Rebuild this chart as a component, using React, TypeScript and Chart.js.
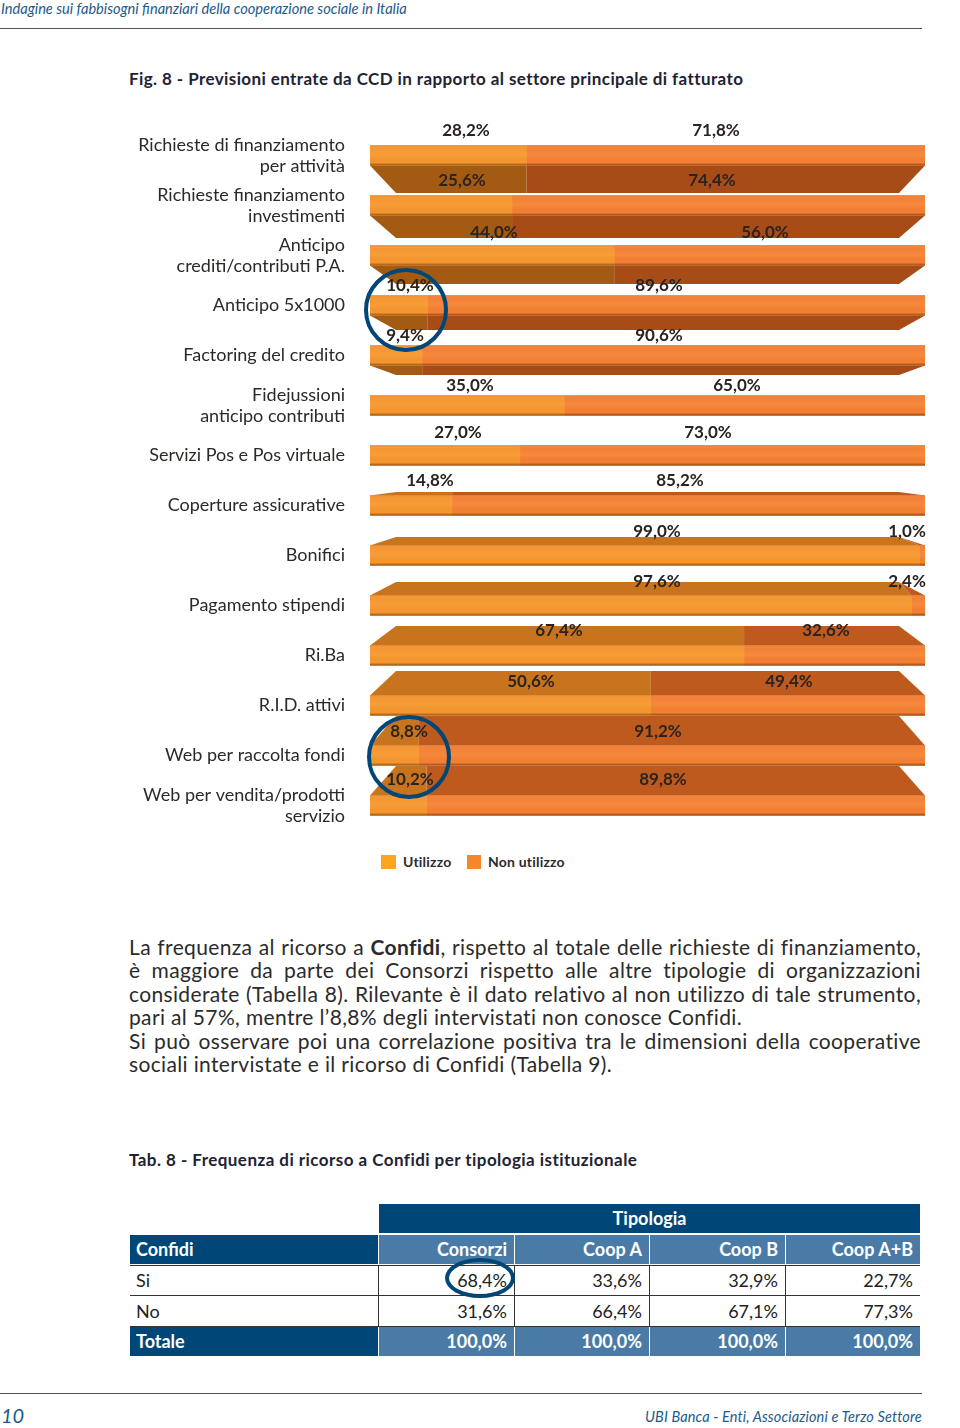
import React, { useEffect, useRef } from "react";
import { Chart, registerables } from "chart.js";
Chart.register(...registerables);

const categories: string[][] = [
  ["Richieste di finanziamento", "per attività"],
  ["Richieste finanziamento", "investimenti"],
  ["Anticipo", "crediti/contributi P.A."],
  ["Anticipo 5x1000"],
  ["Factoring del credito"],
  ["Fidejussioni", "anticipo contributi"],
  ["Servizi Pos e Pos virtuale"],
  ["Coperture assicurative"],
  ["Bonifici"],
  ["Pagamento stipendi"],
  ["Ri.Ba"],
  ["R.I.D. attivi"],
  ["Web per raccolta fondi"],
  ["Web per vendita/prodotti", "servizio"],
];
const utilizzo = [28.2, 25.6, 44.0, 10.4, 9.4, 35.0, 27.0, 14.8, 99.0, 97.6, 67.4, 50.6, 8.8, 10.2];
const nonUtilizzo = [71.8, 74.4, 56.0, 89.6, 90.6, 65.0, 73.0, 85.2, 1.0, 2.4, 32.6, 49.4, 91.2, 89.8];
const depth = [27.5, 22.5, 18.5, 14.5, 9.5, 0, 0, -3.5, -8.5, -13.5, -19.5, -24.5, -29.5, -29.5];
const labelY = [131, 181, 233, 286, 336, 386, 433, 481, 532, 582, 631, 682, 732, 780];
const labelUx = [466, 462, 494, 410, 405, 470, 458, 430, 657, 657, 559, 531, 409, 410];
const labelNx = [716, 712, 765, 659, 659, 737, 708, 680, 907, 907, 826, 789, 658, 663];
const circles = [
  { x: 406, y: 310, rx: 40, ry: 40 },
  { x: 409, y: 757, rx: 40, ry: 40 },
];

const NAVY = "#004676";
const MID = "#4a7ba6";
const SANS = "Lato, 'Noto Sans', sans-serif";
const fmt = (v: number) => v.toFixed(1).replace(".", ",") + "%";

const tableHead = ["Consorzi", "Coop A", "Coop B", "Coop A+B"];
const tableSi = ["68,4%", "33,6%", "32,9%", "22,7%"];
const tableNo = ["31,6%", "66,4%", "67,1%", "77,3%"];
const tableTot = ["100,0%", "100,0%", "100,0%", "100,0%"];
const colX = [379, 515, 650, 786];
const colW = [135, 134, 135, 134];

const face3d = {
  id: "face3d",
  beforeDatasetsDraw(chart: any) {
    const { ctx, scales } = chart;
    const x = scales.x, y = scales.y;
    const h = 20;
    const inset = 26;
    categories.forEach((_, i) => {
      const d = depth[i];
      if (!d) return;
      const yc = y.getPixelForValue(i);
      const edge = d > 0 ? yc + h / 2 : yc - h / 2;
      const far = edge + d;
      const split = x.getPixelForValue(utilizzo[i]);
      const l = x.getPixelForValue(0), r = x.getPixelForValue(100);
      const down = d > 0;
      const cu = down ? "#a35a12" : "#c8741f";
      const cn = down ? "#a84c17" : "#bf5a1e";
      const splitFar = Math.max(l + inset, Math.min(split, r - inset));
      ctx.save();
      ctx.fillStyle = cu;
      ctx.beginPath();
      ctx.moveTo(l, edge); ctx.lineTo(split, edge); ctx.lineTo(splitFar, far); ctx.lineTo(l + inset, far);
      ctx.closePath(); ctx.fill();
      ctx.fillStyle = cn;
      ctx.beginPath();
      ctx.moveTo(split, edge); ctx.lineTo(r, edge); ctx.lineTo(r - inset, far); ctx.lineTo(splitFar, far);
      ctx.closePath(); ctx.fill();
      ctx.restore();
    });
  },
};

const overlay = {
  id: "overlay",
  afterDatasetsDraw(chart: any) {
    const { ctx } = chart;
    const rect = chart.canvas.getBoundingClientRect();
    const top = rect.top;
    const left = rect.left;
    ctx.save();
    [0, 1].forEach((d) => {
      chart.getDatasetMeta(d).data.forEach((b: any) => {
        const t = b.y - b.height / 2;
        const g = ctx.createLinearGradient(0, t, 0, t + b.height);
        g.addColorStop(0, "rgba(150,70,0,0.35)");
        g.addColorStop(0.12, "rgba(255,255,255,0)");
        g.addColorStop(0.5, "rgba(255,220,120,0.1)");
        g.addColorStop(0.85, "rgba(120,60,0,0)");
        g.addColorStop(1, "rgba(90,40,0,0.65)");
        ctx.fillStyle = g;
        ctx.fillRect(b.base, t, b.x - b.base, b.height);
      });
    });
    ctx.font = `700 17px ${SANS}`;
    ctx.fillStyle = "#2b2320";
    ctx.textAlign = "center";
    ctx.textBaseline = "middle";
    categories.forEach((_, i) => {
      ctx.fillText(fmt(utilizzo[i]), labelUx[i] - left, labelY[i] - top);
      ctx.fillText(fmt(nonUtilizzo[i]), labelNx[i] - left, labelY[i] - top);
    });
    ctx.strokeStyle = NAVY;
    ctx.lineWidth = 4;
    circles.forEach((c) => {
      ctx.beginPath();
      ctx.ellipse(c.x - left, c.y - top, c.rx, c.ry, 0, 0, Math.PI * 2);
      ctx.stroke();
    });
    ctx.restore();
  },
};

const abs = (x: number, y: number, extra: React.CSSProperties = {}): React.CSSProperties => ({
  position: "absolute", left: x, top: y, whiteSpace: "nowrap", ...extra,
});
const bodyLines = [
  ["La frequenza al ricorso a ", "Confidi", ", rispetto al totale delle richieste di finanziamento,"],
  ["è maggiore da parte dei Consorzi rispetto alle altre tipologie di organizzazioni"],
  ["considerate (Tabella 8). Rilevante è il dato relativo al non utilizzo di tale strumento,"],
  ["pari al 57%, mentre l’8,8% degli intervistati non conosce Confidi."],
  ["Si può osservare poi una correlazione positiva tra le dimensioni della cooperative"],
  ["sociali intervistate e il ricorso di Confidi (Tabella 9)."],
];

function Row({ y, h, label, vals, bg, labelBg, color, bold }: any) {
  return (
    <>
      <div style={abs(130, y, { width: 248, height: h, background: labelBg, color, fontWeight: bold ? 700 : 400, lineHeight: h - 1 + "px", paddingLeft: 6, boxSizing: "border-box" })}>{label}</div>
      {vals.map((v: string, i: number) => (
        <div key={i} style={abs(colX[i], y, { width: colW[i], height: h, background: bg, color, fontWeight: bold ? 700 : 400, lineHeight: h - 1 + "px", textAlign: "right", paddingRight: 7, boxSizing: "border-box" })}>{v}</div>
      ))}
    </>
  );
}

export default function App() {
  const ref = useRef<HTMLCanvasElement>(null);
  useEffect(() => {
    document.body.style.margin = "0";
    const chart = new Chart(ref.current!, {
      type: "bar",
      data: {
        labels: categories,
        datasets: [
          { label: "Utilizzo", data: utilizzo, backgroundColor: "#f6962f", barThickness: 20 },
          { label: "Non utilizzo", data: nonUtilizzo, backgroundColor: "#f47f34", barThickness: 20 },
        ],
      },
      options: {
        indexAxis: "y",
        responsive: false,
        animation: false,
        layout: { padding: { top: 20.5, bottom: 0.5, left: 0, right: 5 } },
        plugins: {
          legend: { display: false },
          tooltip: { enabled: false },
        },
        scales: {
          x: { stacked: true, min: 0, max: 100, display: false },
          y: {
            stacked: true,
            grid: { display: false, drawTicks: false },
            border: { display: false },
            afterFit: (s: any) => { s.width = 270; s.paddingTop = 0; s.paddingBottom = 0; },
            ticks: { autoSkip: false, color: "#2d2a26", font: { family: SANS, size: 18 }, padding: 25 },
          },
        },
      },
      plugins: [face3d, overlay],
    } as any);
    return () => chart.destroy();
  }, []);

  return (
    <div style={{ position: "relative", width: 960, height: 1428, background: "#fff", fontFamily: SANS, color: "#2b2b2b", overflow: "hidden" }}>
      <div style={abs(1, 0, { fontSize: 14.6, fontStyle: "italic", color: "#1c5a8c" })}>Indagine sui fabbisogni finanziari della cooperazione sociale in Italia</div>
      <div style={abs(0, 28, { width: 922, height: 1, background: "#555" })} />
      <div style={abs(129, 68, { fontSize: 17, letterSpacing: 0.4, fontWeight: 700, color: "#223" })}>Fig. 8 - Previsioni entrate da CCD in rapporto al settore principale di fatturato</div>
      <canvas ref={ref} width={830} height={721} style={{ position: "absolute", left: 100, top: 110 }} />
      <div style={abs(381, 855, { width: 15, height: 14, background: "#fca51f" })} />
      <div style={abs(403, 853, { fontSize: 14, letterSpacing: 0.2, fontWeight: 700 })}>Utilizzo</div>
      <div style={abs(467, 855, { width: 14, height: 14, background: "#f5862c" })} />
      <div style={abs(488, 853, { fontSize: 14, letterSpacing: 0.2, fontWeight: 700 })}>Non utilizzo</div>
      {bodyLines.map((l, i) => (
        <div key={i} style={abs(129, 935 + i * 23.4, { width: 792, fontSize: 21, letterSpacing: 0.35, lineHeight: "24px", textAlign: "justify", textAlignLast: i === 3 || i === 5 ? "left" : "justify", whiteSpace: "normal" })}>
          {l.length === 3 ? <>{l[0]}<b>{l[1]}</b>{l[2]}</> : l[0]}
        </div>
      ))}
      <div style={abs(129, 1149, { fontSize: 17, letterSpacing: 0.45, fontWeight: 700, color: "#223" })}>Tab. 8 - Frequenza di ricorso a Confidi per tipologia istituzionale</div>
      <div style={{ fontSize: 18 }}>
        <div style={abs(379, 1204, { width: 541, height: 29, background: NAVY, color: "#fff", fontWeight: 700, textAlign: "center", lineHeight: "28px" })}>Tipologia</div>
        <Row y={1235} h={29} label="Confidi" vals={tableHead} bg={MID} labelBg={NAVY} color="#fff" bold />
        <Row y={1266} h={29} label="Si" vals={tableSi} bg="#fff" labelBg="#fff" color="#222" />
        <Row y={1297} h={29} label="No" vals={tableNo} bg="#fff" labelBg="#fff" color="#222" />
        <Row y={1327} h={29} label="Totale" vals={tableTot} bg={MID} labelBg={NAVY} color="#fff" bold />
        <div style={abs(130, 1295, { width: 790, height: 1, background: "#333" })} />
        <div style={abs(130, 1265, { width: 790, height: 1, background: "#333" })} />
        <div style={abs(130, 1326, { width: 790, height: 1, background: "#333" })} />
        {[514, 649, 785].map((x) => <div key={x} style={abs(x, 1265, { width: 1, height: 62, background: "#333" })} />)}
        <div style={abs(378, 1265, { width: 1, height: 62, background: "#333" })} />
        <div style={abs(445, 1258, { width: 70, height: 40, border: `4px solid ${NAVY}`, borderRadius: "50%", boxSizing: "border-box" })} />
      </div>
      <div style={abs(0, 1393, { width: 922, height: 1, background: "#555" })} />
      <div style={abs(1, 1403, { fontSize: 20, fontStyle: "italic", color: "#1c5a8c" })}>10</div>
      <div style={abs(645, 1408, { fontSize: 14.5, letterSpacing: 0.13, fontStyle: "italic", color: "#1c5a8c" })}>UBI Banca - Enti, Associazioni e Terzo Settore</div>
    </div>
  );
}
